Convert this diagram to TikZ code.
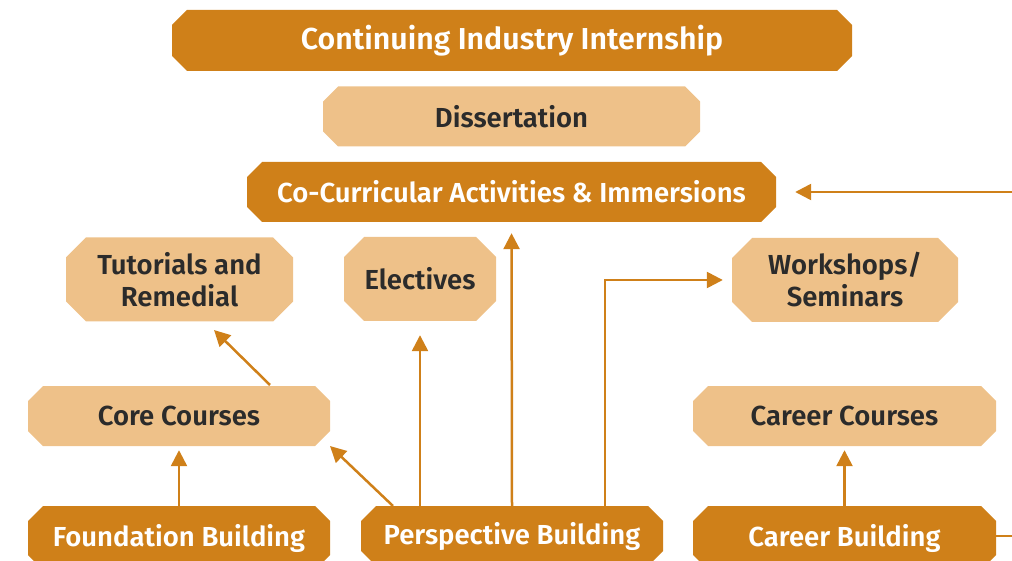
\documentclass[tikz,border=0pt]{standalone}
\usepackage{fontspec}
\setmainfont{Fira Sans SemiBold}
\usetikzlibrary{arrows.meta,calc}
\definecolor{dark}{HTML}{CF8019}
\definecolor{light}{HTML}{EEC189}
\definecolor{ink}{HTML}{2B2B2B}
\tikzset{
  octfill/.style 2 args={path picture={
    \fill[#1]
      ([xshift=#2]path picture bounding box.south west) --
      ([xshift=-#2]path picture bounding box.south east) --
      ([yshift=#2]path picture bounding box.south east) --
      ([yshift=-#2]path picture bounding box.north east) --
      ([xshift=-#2]path picture bounding box.north east) --
      ([xshift=#2]path picture bounding box.north west) --
      ([yshift=-#2]path picture bounding box.north west) --
      ([yshift=#2]path picture bounding box.south west) -- cycle;}},
  box/.style={rectangle, inner sep=0pt, align=center, font=\fontsize{27.5}{32}\selectfont},
  darkbox/.style={box, octfill={dark}{15pt}, text=white, minimum height=60pt},
  lightbox/.style={box, octfill={light}{15pt}, text=ink, minimum height=60pt},
  tallbox/.style={box, octfill={light}{20pt}, text=ink, minimum height=84pt},
  conn/.style={draw=dark, line width=2.5pt},
  arr/.style={conn, -{Triangle[length=16pt,width=16pt]}}
}
\begin{document}
\begin{tikzpicture}[x=1pt,y=-1pt]
\useasboundingbox (0,0) rectangle (1012,561);
\node[darkbox, minimum width=680pt, minimum height=61pt, font=\fontsize{30.3}{34}\selectfont] (cii) at (512,40.5) {Continuing Industry Internship};
\node[lightbox, minimum width=377pt] (diss) at (511.5,116.5) {Dissertation};
\node[darkbox, minimum width=529pt] (coc) at (511.5,192) {Co-Curricular Activities \& Immersions};
\node[tallbox, minimum width=227pt] (tut) at (179.5,279.5) {Tutorials and\\Remedial};
\node[tallbox, minimum width=152pt] (elec) at (420,279) {Electives};
\node[tallbox, minimum width=226pt] (work) at (845,280) {Workshops/\\Seminars};
\node[lightbox, minimum width=302pt] (core) at (179,416) {Core Courses};
\node[lightbox, minimum width=303pt] (carc) at (844.5,416) {Career Courses};
\node[darkbox, minimum width=302pt, minimum height=64pt] (found) at (179,538) {Foundation Building};
\node[darkbox, minimum width=302pt, minimum height=60pt] (persp) at (512,536) {Perspective Building};
\node[darkbox, minimum width=303pt, minimum height=64pt] (carb) at (844.5,538) {Career Building};
\coordinate (rin) at (1012,192);
\coordinate (rout) at (1012,536);
\coordinate (pc) at (393,506);
\coordinate (coretip) at (330,446);
\coordinate (cs) at (270,385);
\coordinate (tuttip) at (214,330);
\draw[arr, shorten >=19pt] (rin) -- (coc.east);
\draw[arr, shorten >=11pt] (persp.north) -- (coc.south);
\draw[arr, shorten >=14pt] (persp.north -| elec.south) -- (elec.south);
\draw[arr, shorten >=9pt] (persp.north -| 605,0) |- (work.west);
\draw[arr] (pc) -- (coretip);
\draw[arr] (cs) -- (tuttip);
\draw[arr, shorten >=4pt] (found.north) -- (core.south);
\draw[arr, shorten >=4pt] (carb.north) -- (carc.south);
\draw[conn] (carb.east |- rout) -- (rout);
\end{tikzpicture}
\end{document}
